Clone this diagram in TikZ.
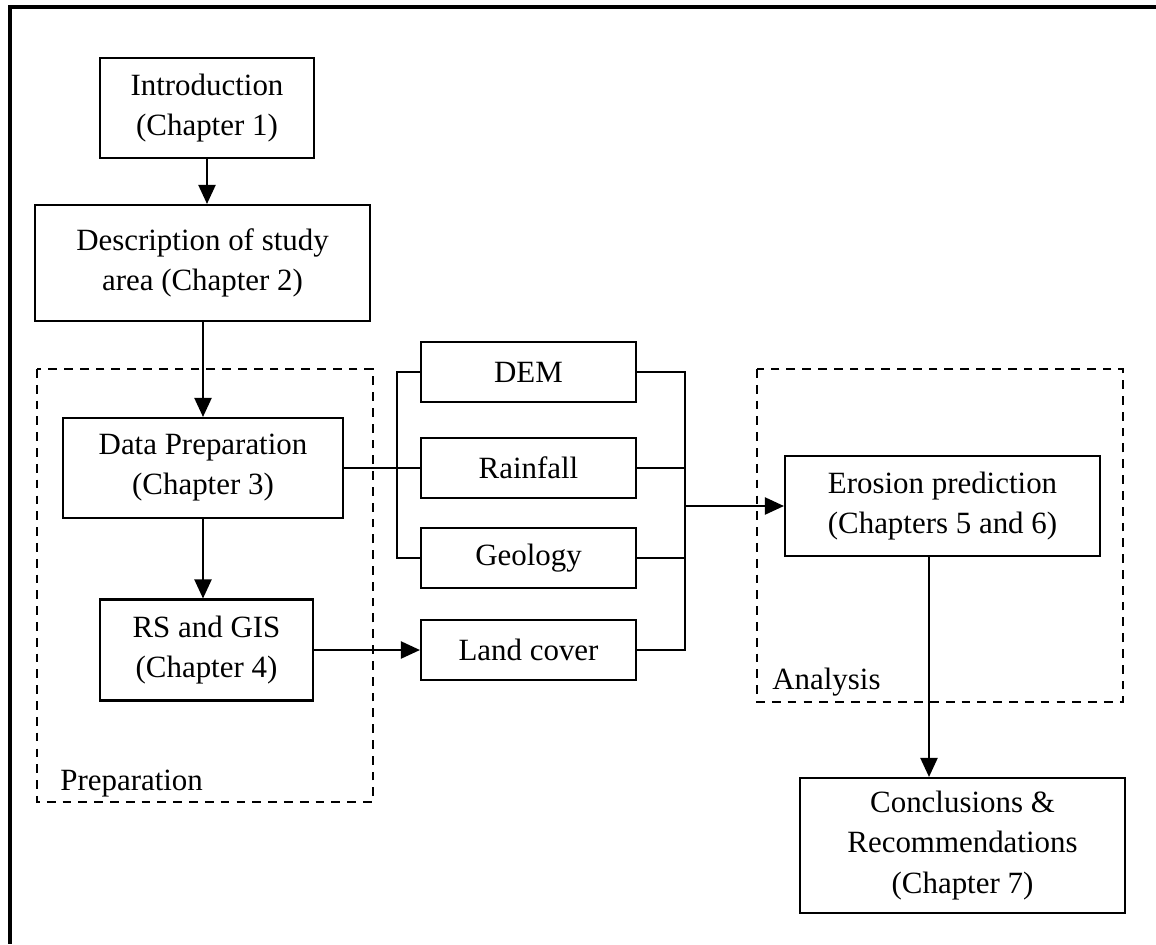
\documentclass[tikz,border=0pt]{standalone}
\usepackage{fontspec}
\setmainfont{Liberation Serif}
\usetikzlibrary{arrows.meta}

\tikzset{
    chapbox/.style={draw, line width=1.2pt, align=center, inner sep=2pt},
    databox/.style={draw, line width=1.2pt, minimum width=4.3cm, minimum height=1.2cm},
    groupbox/.style={draw, dashed, line width=1.1pt, dash pattern=on 5pt off 4pt},
    link/.style={line width=1.2pt},
    flow/.style={line width=1.2pt, -{Triangle[length=0.38cm, width=0.34cm]}},
}

\begin{document}
\begin{tikzpicture}[x=0.02cm, y=-0.02cm, font=\fontsize{17.6}{22.8}\selectfont]
    \useasboundingbox (0,0) rectangle (1156,944);
    % outer frame
    \draw[line width=2pt] (1156,7) -- (10,7) -- (10,944);

    % groups
    \draw[groupbox] (37,369) rectangle (373,802);
    \draw[groupbox] (757,369) rectangle (1123,702);
    \node[anchor=south west, inner sep=0pt] (prep) at (60,797) {Preparation};
    \node[anchor=south west, inner sep=0pt] (anal) at (772,697) {Analysis};

    % chapters
    \node[chapbox, minimum width=4.28cm, minimum height=2cm] (intro) at (207,108) {Introduction\\(Chapter 1)};
    \node[chapbox, minimum width=6.7cm, minimum height=2.32cm] (desc) at (202.5,263) {Description of study\\area (Chapter 2)};
    \node[chapbox, minimum width=5.6cm, minimum height=2cm] (dp) at (203,468) {Data Preparation\\(Chapter 3)};
    \node[chapbox, minimum width=4.26cm, minimum height=2.02cm] (rs) at (206.5,650) {RS and GIS\\(Chapter 4)};
    \node[chapbox, minimum width=6.3cm, minimum height=2cm] (ero) at (942.5,506) {Erosion prediction\\(Chapters 5 and 6)};
    \node[chapbox, minimum width=6.5cm, minimum height=2.7cm] (concl) at (962.5,845.5) {Conclusions \&\\Recommendations\\(Chapter 7)};

    % data sets
    \foreach \n/\t/\y in {dem/DEM/372, rain/Rainfall/468, geo/Geology/558, land/Land cover/650} {
        \node[databox] (\n) at (528.5,\y) {\t};
    }

    \coordinate (lb) at (397,468);
    \coordinate (rb) at (685,506);

    \draw[flow] (intro) -- (intro |- desc.north);
    \draw[flow] (desc.south -| dp) -- (dp);
    \draw[flow] (dp) -- (dp |- rs.north);
    \draw[flow] (rs.east) -- (land.west);

    \draw[link] (dem.west) -| (lb) |- (geo.west);
    \draw[link] (rain.west) -- (rain.west -| lb);
    \draw[link] (dp.east) -- (lb);

    \draw[link] (dem.east) -| (rb) |- (land.east);
    \draw[link] (rain.east) -- (rain.east -| rb);
    \draw[link] (geo.east) -- (geo.east -| rb);
    \draw[flow] (ero.west -| rb) -- (ero.west);

    \draw[flow] ([xshift=-0.27cm]ero.south) -- ([xshift=-0.27cm]ero.south |- concl.north);
\end{tikzpicture}
\end{document}
